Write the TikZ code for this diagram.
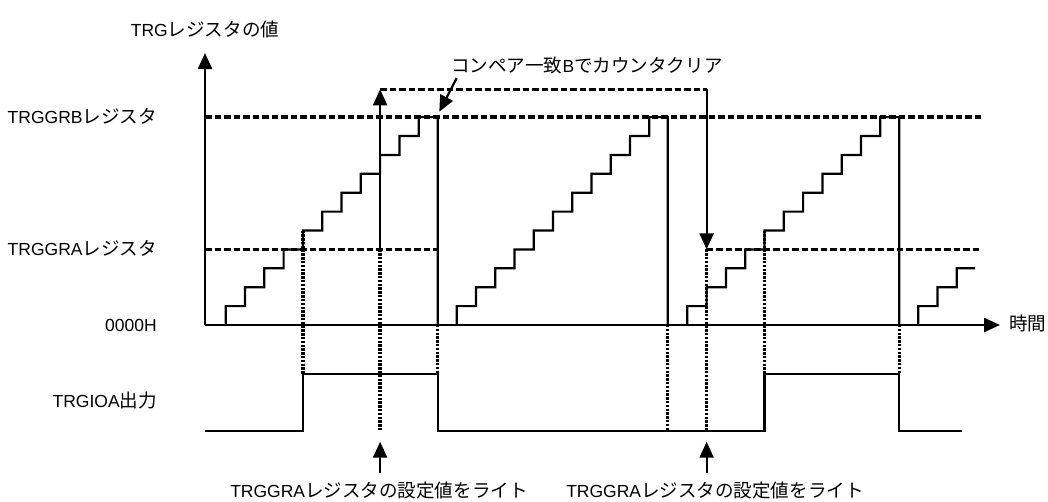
\documentclass[tikz,border=0pt]{standalone}
\usepackage{fontspec}
\setmainfont{Liberation Sans}
\newfontfamily\jpfont[Scale=1.06]{Noto Sans CJK JP}
\usetikzlibrary{arrows.meta}
\tikzset{
  axisline/.style={-{Triangle[length=16pt,width=14pt]}, line width=2.4pt},
  stair/.style={line width=2.2pt},
  regline/.style={line width=3.3pt, dash pattern=on 6.5pt off 3pt},
  linkline/.style={line width=3.3pt, dash pattern=on 2.4pt off 1.4pt},
  wave/.style={line width=2.2pt},
  arrow/.style={-{Triangle[length=16pt,width=14pt]}, line width=2.2pt},
  lbl/.style={font=\fontsize{17.5}{20}\selectfont, inner sep=0pt}
}
\begin{document}
\begin{tikzpicture}[x=1pt, y=-1pt]
  \useasboundingbox (0,0) rectangle (1048,501);

  % axes
  \coordinate (org) at (205,325);
  \coordinate (ytop) at (205,53);
  \coordinate (xend) at (1000,325);
  \draw[axisline] (org) -- (ytop);
  \draw[axisline] (org) -- (xend);

  % labels
  \node[lbl, anchor=base] (ylab) at (205,36) {TRG{\jpfont レジスタの値}};
  \node[lbl, anchor=base east] (grblab) at (157,123) {TRGGRB{\jpfont レジスタ}};
  \node[lbl, anchor=base east] (gralab) at (157,255) {TRGGRA{\jpfont レジスタ}};
  \node[lbl, anchor=base east] (zerolab) at (157,331) {0000H};
  \node[lbl, anchor=base east] (ioalab) at (157,407) {TRGIOA{\jpfont 出力}};
  \node[lbl, anchor=base west] (tlab) at (1009,330) {\jpfont 時間};
  \node[lbl, anchor=base west] (cmlab) at (451,72) {{\jpfont コンペア一致}B{\jpfont でカウンタクリア}};
  \node[lbl, anchor=base] (wr1) at (379,497) {TRGGRA{\jpfont レジスタの設定値をライト}};
  \node[lbl, anchor=base] (wr2) at (715,497) {TRGGRA{\jpfont レジスタの設定値をライト}};

  % register levels
  \draw[regline] (205,117.1) -- (982,117.1);
  \draw[regline] (205,249.4) -- (438,249.4);
  \draw[regline] (706.6,249.4) -- (980,249.4);
  \draw[regline] (380.1,89.3) -- (706.6,89.3);

  % counter
  \draw[stair] (225.7,325) \foreach \k in {1,...,10} { -- ++(0,-18.9) -- ++(19.3,0) }
    -- ++(0,-18.9) -- (437.7,117.1) -- (437.7,325);
  \draw[stair] (456.7,325) \foreach \k in {1,...,10} { -- ++(0,-18.9) -- ++(19.26,0) }
    -- ++(0,-18.9) -- (667.7,117.1) -- (667.7,325);
  \draw[stair] (687.3,325) \foreach \k in {1,...,10} { -- ++(0,-18.9) -- ++(19.3,0) }
    -- ++(0,-18.9) -- (899.3,117.1) -- (899.3,325);
  \draw[stair] (918.3,325) \foreach \k in {1,2} { -- ++(0,-18.9) -- ++(19.2,0) }
    -- ++(0,-18.9) -- (975,268.3);

  % TRGIOA output
  \draw[wave] (205,430.7) -- (302.9,430.7) -- (302.9,374) -- (437.7,374) -- (437.7,430.7)
    -- (764.5,430.7) -- (764.5,374) -- (899.3,374) -- (899.3,430.7) -- (961.7,430.7);

  % links
  \draw[linkline] (302.9,230.5) -- (302.9,374);
  \draw[linkline] (380.1,249.4) -- (380.1,430.7);
  \draw[linkline] (437.7,325) -- (437.7,374);
  \draw[linkline] (667.7,325) -- (667.7,430.7);
  \draw[linkline] (706.6,249.4) -- (706.6,430.7);
  \draw[linkline] (764.5,230.5) -- (764.5,374);
  \draw[linkline] (899.3,325) -- (899.3,374);

  % write arrows
  \coordinate (upfrom) at (380.1,249.4);
  \coordinate (upto) at (380.1,89.3);
  \coordinate (dnfrom) at (706.6,89.3);
  \coordinate (dnto) at (706.6,249.4);
  \draw[arrow] (upfrom) -- (upto);
  \draw[arrow] (dnfrom) -- (dnto);

  \coordinate (w1from) at (380.1,473);
  \coordinate (w1to) at (380.1,441.7);
  \coordinate (w2from) at (706.6,473);
  \coordinate (w2to) at (706.6,441.7);
  \draw[arrow] (w1from) -- (w1to);
  \draw[arrow] (w2from) -- (w2to);

  \coordinate (cmfrom) at (456.7,78);
  \coordinate (cmto) at (439.3,111.7);
  \draw[arrow] (cmfrom) -- (cmto);
\end{tikzpicture}
\end{document}
